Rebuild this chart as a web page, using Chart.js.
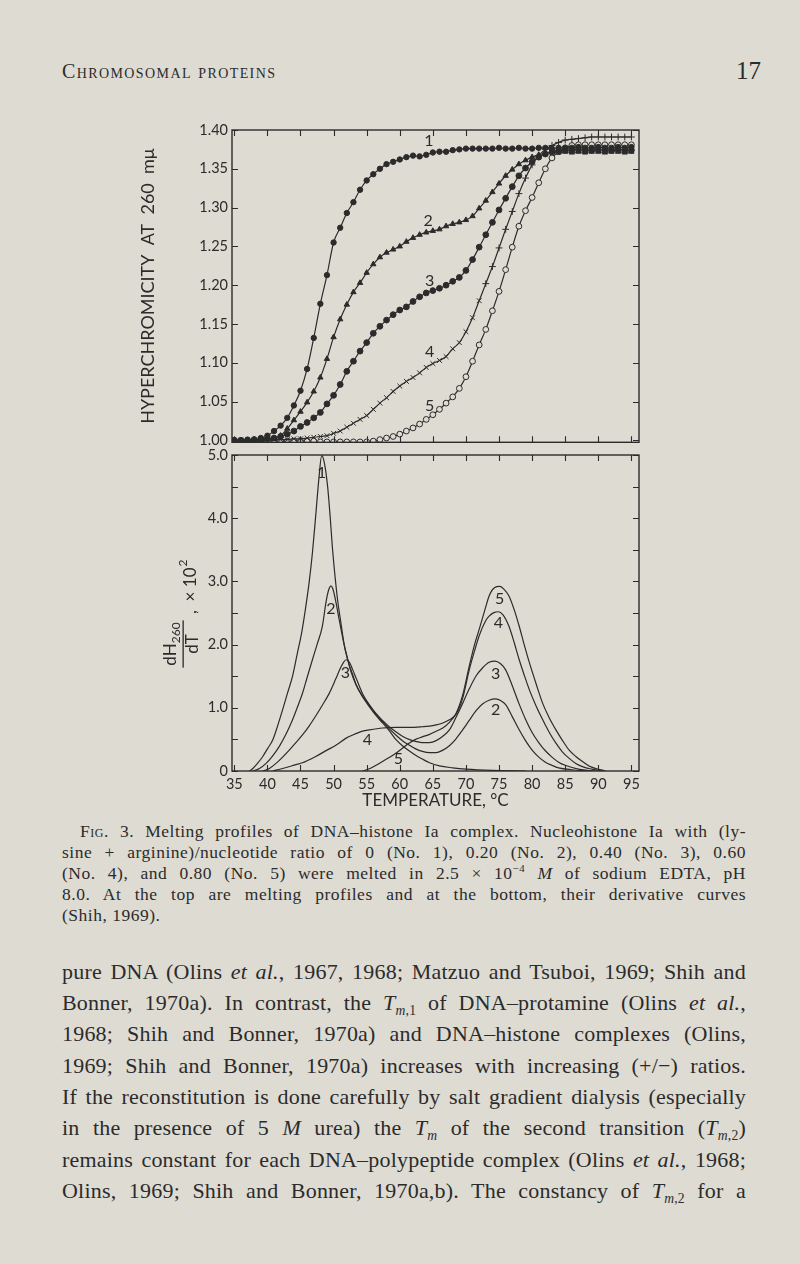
<!DOCTYPE html>
<html>
<head>
<meta charset="utf-8">
<script src="https://cdn.jsdelivr.net/npm/chart.js@4.4.1/dist/chart.umd.min.js"></script>
<style>
  html, body { margin: 0; padding: 0; }
  body { width: 800px; height: 1264px; background: #dedbd3; position: relative; overflow: hidden;
         color: #2b2b2b; font-family: "Liberation Serif", serif; }
  .abs { position: absolute; }
  #head { left: 62px; top: 59px; font-size: 20px; line-height: 24px; font-variant: small-caps; letter-spacing: 1.4px; }
  #folio { left: 736px; top: 56px; font-size: 25px; line-height: 30px; }
  .line { position: absolute; left: 62px; width: 684px; white-space: nowrap; text-align: justify; text-align-last: justify; }
  .cap { font-size: 17.5px; line-height: 20px; letter-spacing: 0.5px; }
  .txt { font-size: 22px; line-height: 24px; letter-spacing: 0.2px; }
  .sc { font-variant: small-caps; }
  sub, sup { font-size: 62%; line-height: 0; }
  #topWrap { left: 132px; top: 110px; width: 520px; height: 345px; }
  #botWrap { left: 132px; top: 440px; width: 520px; height: 380px; }
</style>
</head>
<body>
<div id="head" class="abs">Chromosomal proteins</div>
<div id="folio" class="abs">17</div>

<div id="topWrap" class="abs"><canvas id="meltChart" width="520" height="345"></canvas></div>
<div id="botWrap" class="abs"><canvas id="derivChart" width="520" height="380"></canvas></div>

<div class="line cap" style="top:821px; left:80px; width:666px;"><span class="sc">Fig.</span> 3. Melting profiles of DNA–histone Ia complex. Nucleohistone Ia with (ly-</div>
<div class="line cap" style="top:842px;">sine + arginine)/nucleotide ratio of 0 (No. 1), 0.20 (No. 2), 0.40 (No. 3), 0.60</div>
<div class="line cap" style="top:863px;">(No. 4), and 0.80 (No. 5) were melted in 2.5 × 10<sup>−4</sup> <i>M</i> of sodium EDTA, pH</div>
<div class="line cap" style="top:884px;">8.0. At the top are melting profiles and at the bottom, their derivative curves</div>
<div class="line cap" style="top:905px; text-align-last:left;">(Shih, 1969).</div>

<div class="line txt" style="top:960px;">pure DNA (Olins <i>et al.</i>, 1967, 1968; Matzuo and Tsuboi, 1969; Shih and</div>
<div class="line txt" style="top:991px;">Bonner, 1970a). In contrast, the <i>T</i><sub><i>m</i>,1</sub> of DNA–protamine (Olins <i>et al.</i>,</div>
<div class="line txt" style="top:1022px;">1968; Shih and Bonner, 1970a) and DNA–histone complexes (Olins,</div>
<div class="line txt" style="top:1054px;">1969; Shih and Bonner, 1970a) increases with increasing (+/−) ratios.</div>
<div class="line txt" style="top:1085px;">If the reconstitution is done carefully by salt gradient dialysis (especially</div>
<div class="line txt" style="top:1116px;">in the presence of 5 <i>M</i> urea) the <i>T<sub>m</sub></i> of the second transition (<i>T</i><sub><i>m</i>,2</sub>)</div>
<div class="line txt" style="top:1148px;">remains constant for each DNA–polypeptide complex (Olins <i>et al.</i>, 1968;</div>
<div class="line txt" style="top:1179px;">Olins, 1969; Shih and Bonner, 1970a,b). The constancy of <i>T</i><sub><i>m</i>,2</sub> for a</div>

<script>
// Melting profiles (top) and derivative curves (bottom), Shih 1969

const ink = '#2b2b2b';
const paper = '#dedbd3';

// shared temperature axis
const tempMin = 34.65;
const tempMax = 96.15;
const tempTicks = [35, 40, 45, 50, 55, 60, 65, 70, 75, 80, 85, 90, 95];

// top panel: hyperchromicity read every degree
const meltTemps = [35, 36, 37, 38, 39, 40, 41, 42, 43, 44, 45, 46, 47, 48, 49, 50, 51, 52, 53, 54,
    55, 56, 57, 58, 59, 60, 61, 62, 63, 64, 65, 66, 67, 68, 69, 70, 71, 72, 73, 74,
    75, 76, 77, 78, 79, 80, 81, 82, 83, 84, 85, 86, 87, 88, 89, 90, 91, 92, 93, 94, 95];
const hyper1 = [1.000, 1.000, 1.001, 1.001, 1.003, 1.006, 1.012, 1.019, 1.029, 1.045, 1.064, 1.092, 1.132, 1.176, 1.213, 1.255, 1.274, 1.293, 1.307, 1.323,
    1.335, 1.343, 1.350, 1.356, 1.359, 1.362, 1.365, 1.367, 1.366, 1.368, 1.371, 1.372, 1.372, 1.374, 1.375, 1.376, 1.376, 1.376, 1.376, 1.376,
    1.377, 1.376, 1.376, 1.377, 1.376, 1.376, 1.377, 1.377, 1.376, 1.377, 1.377, 1.377, 1.378, 1.377, 1.377, 1.378, 1.377, 1.377, 1.378, 1.377, 1.378];
const hyper2 = [1.000, 1.000, 1.000, 1.001, 1.001, 1.002, 1.002, 1.006, 1.015, 1.026, 1.037, 1.049, 1.063, 1.081, 1.105, 1.133, 1.156, 1.175, 1.191, 1.203,
    1.216, 1.227, 1.236, 1.242, 1.246, 1.250, 1.256, 1.261, 1.265, 1.268, 1.270, 1.272, 1.276, 1.279, 1.281, 1.284, 1.289, 1.299, 1.309, 1.320,
    1.331, 1.341, 1.349, 1.356, 1.361, 1.365, 1.368, 1.370, 1.371, 1.371, 1.372, 1.371, 1.372, 1.371, 1.372, 1.372, 1.371, 1.372, 1.372, 1.371, 1.372];
const hyper3 = [1.000, 1.000, 1.000, 1.001, 1.001, 1.002, 1.003, 1.005, 1.008, 1.012, 1.018, 1.023, 1.029, 1.036, 1.047, 1.058, 1.072, 1.089, 1.102, 1.115,
    1.126, 1.138, 1.147, 1.155, 1.162, 1.168, 1.172, 1.179, 1.185, 1.190, 1.193, 1.196, 1.200, 1.205, 1.210, 1.219, 1.233, 1.249, 1.265, 1.281,
    1.297, 1.312, 1.327, 1.341, 1.351, 1.359, 1.365, 1.369, 1.372, 1.373, 1.374, 1.374, 1.375, 1.374, 1.374, 1.375, 1.374, 1.374, 1.375, 1.374, 1.374];
const hyper4 = [0.999, 1.000, 1.000, 1.000, 1.001, 1.000, 1.001, 1.001, 1.001, 1.002, 1.002, 1.003, 1.004, 1.005, 1.006, 1.009, 1.012, 1.017, 1.022, 1.027,
    1.032, 1.040, 1.048, 1.055, 1.063, 1.070, 1.076, 1.081, 1.087, 1.094, 1.099, 1.103, 1.108, 1.118, 1.126, 1.140, 1.158, 1.180, 1.202, 1.224,
    1.248, 1.272, 1.295, 1.318, 1.338, 1.355, 1.367, 1.375, 1.380, 1.384, 1.387, 1.388, 1.389, 1.390, 1.391, 1.391, 1.391, 1.391, 1.391, 1.391, 1.391];
const hyper5 = [1.000, 0.999, 0.999, 0.999, 0.999, 0.999, 0.999, 0.999, 0.999, 0.999, 0.999, 0.999, 0.999, 0.998, 0.998, 0.998, 0.998, 0.998, 0.998, 0.998,
    0.998, 0.999, 1.001, 1.003, 1.005, 1.008, 1.012, 1.016, 1.021, 1.027, 1.033, 1.040, 1.048, 1.056, 1.067, 1.082, 1.102, 1.123, 1.143, 1.167,
    1.192, 1.220, 1.249, 1.276, 1.296, 1.313, 1.332, 1.350, 1.364, 1.372, 1.377, 1.380, 1.381, 1.381, 1.381, 1.381, 1.381, 1.381, 1.381, 1.381, 1.381];
const hyperTicks = [1.00, 1.05, 1.10, 1.15, 1.20, 1.25, 1.30, 1.35, 1.40];

// bottom panel: dH260/dT x 10^2
const dTemp1 = [37.3, 37.8, 38.5, 39.3, 40.0, 40.8, 41.5, 42.3, 43.0, 43.8, 44.5, 45.2, 45.8, 46.3, 46.8, 47.3, 47.8, 48.2, 48.6, 49.1,
    49.5, 49.85, 50.6, 51.1, 51.6, 52.1, 52.6, 53.4, 54.4, 55.4, 56.4, 57.4, 58.4, 59.4, 60.4, 61.4, 62.4, 63.4, 64.5, 66, 68, 70, 74, 79];
const deriv1 = [0, 0.04, 0.12, 0.23, 0.35, 0.49, 0.7, 0.97, 1.22, 1.5, 1.85, 2.2, 2.6, 2.98, 3.45, 4.04, 4.65, 4.99, 4.88, 4.5,
    4.0, 3.5, 2.71, 2.35, 2.0, 1.78, 1.58, 1.36, 1.17, 1.02, 0.88, 0.76, 0.64, 0.5, 0.4, 0.32, 0.25, 0.19, 0.13, 0.08, 0.05, 0.03, 0.01, 0];
const dTemp2 = [37.8, 38.8, 39.8, 40.8, 41.8, 42.8, 43.8, 44.5, 45.3, 46.0, 46.8, 47.5, 48.3, 48.9, 49.3, 49.6, 49.9, 50.3, 50.8, 51.3,
    51.8, 52.3, 52.8, 53.4, 54.4, 55.4, 56.4, 57.4, 58.4, 59.4, 60.4, 61.4, 62.4, 63.4, 64.5, 65.5, 66.5, 67.5, 68.5, 69.5,
    70.5, 71.5, 72.5, 73.5, 74.5, 75.3, 76, 77, 78, 79, 80, 81, 82, 83, 84, 86, 88.5];
const deriv2 = [0, 0.04, 0.12, 0.24, 0.39, 0.58, 0.81, 1.0, 1.23, 1.48, 1.76, 2.0, 2.29, 2.7, 2.88, 2.93, 2.88, 2.7, 2.42, 2.15,
    1.9, 1.7, 1.55, 1.37, 1.18, 1.03, 0.9, 0.78, 0.67, 0.57, 0.48, 0.41, 0.35, 0.31, 0.29, 0.29, 0.33, 0.4, 0.51, 0.65,
    0.8, 0.95, 1.06, 1.12, 1.14, 1.11, 1.05, 0.86, 0.66, 0.48, 0.33, 0.22, 0.14, 0.09, 0.05, 0.02, 0];
const dTemp3 = [39.3, 40.3, 41.3, 42.3, 43.3, 44.3, 45.3, 46.3, 47.3, 48.3, 49.3, 50.3, 51.0, 51.5, 51.9, 52.4, 52.9, 53.4, 54.4, 55.4,
    56.4, 57.4, 58.4, 59.4, 60.4, 61.4, 62.4, 63.4, 64.5, 65.5, 66.5, 67.5, 68.5, 69.5, 70.5, 71.5, 72.5, 73.5, 74.4, 75.2,
    76, 77, 78, 79, 80, 81, 82, 83, 84, 85, 87, 89.5];
const deriv3 = [0, 0.04, 0.12, 0.22, 0.33, 0.45, 0.57, 0.71, 0.87, 1.04, 1.22, 1.45, 1.62, 1.72, 1.76, 1.72, 1.6, 1.47, 1.22, 1.05,
    0.91, 0.8, 0.7, 0.62, 0.55, 0.5, 0.47, 0.45, 0.45, 0.48, 0.55, 0.65, 0.85, 1.07, 1.3, 1.5, 1.63, 1.72, 1.74, 1.7,
    1.6, 1.35, 1.07, 0.82, 0.61, 0.45, 0.32, 0.22, 0.14, 0.09, 0.03, 0];
const dTemp4 = [40.8, 42.3, 44.3, 45.3, 47.3, 49.0, 50.4, 51.9, 52.9, 54.4, 55.4, 57.4, 59.4, 61.4, 63.4, 64.5, 65.5, 66.5, 67.5, 68.5,
    69.5, 70.5, 71.3, 72, 73, 73.5, 74.3, 74.9, 75.6, 76.5, 77.3, 78.05, 78.8, 79.6, 80.6, 81.6, 82.6, 83.6, 84.6, 85.6,
    86.6, 87.6, 89, 90.6];
const deriv4 = [0, 0.04, 0.1, 0.13, 0.23, 0.33, 0.41, 0.52, 0.57, 0.63, 0.65, 0.68, 0.69, 0.69, 0.7, 0.71, 0.73, 0.76, 0.81, 0.9,
    1.15, 1.6, 1.9, 2.14, 2.38, 2.45, 2.51, 2.52, 2.47, 2.29, 2.03, 1.76, 1.52, 1.28, 1.03, 0.81, 0.61, 0.44, 0.3, 0.2,
    0.12, 0.07, 0.03, 0];
const dTemp5 = [54.4, 55.5, 56.9, 58.2, 59.4, 60.4, 61.4, 62.4, 63.4, 64.5, 65.5, 66.5, 67.5, 68.5, 69.5, 70.5, 71.3, 72, 73, 73.5,
    74.3, 75.1, 75.8, 76.5, 77.3, 78.05, 78.8, 79.6, 80.6, 81.6, 82.6, 83.6, 84.6, 85.6, 86.6, 87.6, 88.6, 89.6, 91.1];
const deriv5 = [0, 0.04, 0.12, 0.2, 0.28, 0.36, 0.44, 0.5, 0.54, 0.58, 0.63, 0.68, 0.77, 0.91, 1.2, 1.66, 2.0, 2.24, 2.6, 2.77,
    2.9, 2.92, 2.87, 2.77, 2.55, 2.29, 2.0, 1.71, 1.38, 1.07, 0.84, 0.65, 0.48, 0.33, 0.23, 0.15, 0.08, 0.04, 0];
const derivTicks = [0, 1, 2, 3, 4, 5];
const derivMinor = [0.5, 1.5, 2.5, 3.5, 4.5];

// curve numbers written on the plots
const meltLabels = ['1', '2', '3', '4', '5'];
const meltLabelT = [64.4, 64.3, 64.5, 64.5, 64.5];
const meltLabelH = [1.386, 1.283, 1.206, 1.114, 1.045];
const derivLabels = ['1', '2', '3', '4', '5', '5', '4', '3', '2'];
const derivLabelT = [48.2, 49.6, 51.8, 55.1, 59.8, 75.1, 74.9, 74.5, 74.5];
const derivLabelV = [4.72, 2.56, 1.55, 0.49, 0.2, 2.72, 2.35, 1.53, 0.97];

const sans = 'Lato';

function pts(xs, ys) {
    return xs.map((x, i) => ({ x: x, y: ys[i] }));
}

// frame with inward ticks on all four sides, and the curve numbers
const frameTicks = {
    id: 'frameTicks',
    afterDraw(chart, args, opts) {
        const { ctx, chartArea: a, scales } = chart;
        const xs = scales.x, ys = scales.y;
        ctx.save();
        ctx.strokeStyle = ink;
        ctx.lineWidth = 1.4;
        ctx.strokeRect(a.left, a.top, a.right - a.left, a.bottom - a.top);
        ctx.lineWidth = 1.1;
        ctx.beginPath();
        opts.xTicks.forEach(v => {
            const px = Math.round(xs.getPixelForValue(v)) + 0.5;
            ctx.moveTo(px, a.top); ctx.lineTo(px, a.top + 6);
            ctx.moveTo(px, a.bottom); ctx.lineTo(px, a.bottom - 6);
        });
        opts.yTicks.forEach(v => {
            const py = Math.round(ys.getPixelForValue(v)) + 0.5;
            ctx.moveTo(a.left, py); ctx.lineTo(a.left + 6, py);
            ctx.moveTo(a.right, py); ctx.lineTo(a.right - 6, py);
        });
        ctx.stroke();

        ctx.fillStyle = ink;
        ctx.font = '16px ' + sans;
        ctx.textAlign = 'center';
        ctx.textBaseline = 'middle';
        opts.labels.forEach((t, i) => {
            ctx.fillText(t, xs.getPixelForValue(opts.labelX[i]), ys.getPixelForValue(opts.labelY[i]));
        });

        if (opts.fraction) {
            // dH260 / dT , x 10^2 written sideways
            ctx.translate(49, 204);
            ctx.rotate(-Math.PI / 2);
            ctx.textBaseline = 'alphabetic';
            ctx.textAlign = 'left';
            ctx.font = '17px ' + sans;
            const wd = ctx.measureText('dH').width;
            ctx.font = '12px ' + sans;
            const ws = ctx.measureText('260').width;
            const start = -(wd + ws) / 2;
            ctx.font = '17px ' + sans;
            ctx.fillText('dH', start, -5);
            ctx.font = '12px ' + sans;
            ctx.fillText('260', start + wd, -1);
            ctx.fillRect(start - 2, 1.5, wd + ws + 4, 1.3);
            ctx.font = '17px ' + sans;
            ctx.textAlign = 'center';
            ctx.fillText('dT', 0, 17);
            ctx.textAlign = 'left';
            ctx.fillText(',  × 10', 30, 15);
            const w10 = ctx.measureText(',  × 10').width;
            ctx.font = '12px ' + sans;
            ctx.fillText('2', 30 + w10 + 1, 6);
        }
        ctx.restore();
    }
};

function meltSet(values, style, radius, fill) {
    return {
        data: pts(meltTemps, values),
        borderColor: ink,
        borderWidth: 1.2,
        cubicInterpolationMode: 'monotone',
        pointStyle: style,
        pointRadius: radius,
        pointBorderWidth: 1,
        pointBorderColor: ink,
        pointBackgroundColor: fill
    };
}

function derivSet(xs, ys) {
    return {
        data: pts(xs, ys),
        borderColor: ink,
        borderWidth: 1.2,
        cubicInterpolationMode: 'monotone',
        pointRadius: 0
    };
}

const tickFont = { family: sans, size: 14.5 };

new Chart(document.getElementById('meltChart'), {
    type: 'line',
    data: {
        datasets: [
            meltSet(hyper1, 'circle', 2.7, ink),
            meltSet(hyper2, 'triangle', 3.1, ink),
            meltSet(hyper3, 'circle', 2.9, ink),
            meltSet(hyper4, ctx => (ctx.raw && ctx.raw.y > 1.2 ? 'cross' : 'crossRot'), 3.4, ink),
            meltSet(hyper5, 'circle', 2.9, paper)
        ]
    },
    options: {
        responsive: false,
        animation: false,
        layout: { padding: { top: 20, right: 13, bottom: 10, left: 0 } },
        scales: {
            x: { type: 'linear', min: tempMin, max: tempMax, display: false },
            y: {
                min: 0.9975, max: 1.40,
                afterFit: s => { s.width = 100; },
                afterBuildTicks: s => { s.ticks = hyperTicks.map(v => ({ value: v })); },
                grid: { display: false, drawTicks: false },
                border: { display: false },
                ticks: { padding: 4, color: ink, font: tickFont, callback: v => v.toFixed(2) },
                title: {
                    display: true, text: 'HYPERCHROMICITY  AT  260  mμ', color: ink,
                    font: { family: sans, size: 18 }, padding: { top: 5, bottom: 0 }
                }
            }
        },
        plugins: {
            legend: { display: false },
            tooltip: { enabled: false },
            frameTicks: { xTicks: tempTicks, yTicks: hyperTicks, labels: meltLabels, labelX: meltLabelT, labelY: meltLabelH }
        }
    },
    plugins: [frameTicks]
});

new Chart(document.getElementById('derivChart'), {
    type: 'line',
    data: {
        datasets: [
            derivSet(dTemp1, deriv1),
            derivSet(dTemp2, deriv2),
            derivSet(dTemp3, deriv3),
            derivSet(dTemp4, deriv4),
            derivSet(dTemp5, deriv5)
        ]
    },
    options: {
        responsive: false,
        animation: false,
        layout: { padding: { top: 15, right: 13, bottom: 6, left: 0 } },
        scales: {
            x: {
                type: 'linear', min: tempMin, max: tempMax,
                afterFit: s => { s.height = 43; },
                afterBuildTicks: s => { s.ticks = tempTicks.map(v => ({ value: v })); },
                grid: { display: false, drawTicks: false },
                border: { display: false },
                ticks: { padding: 5, color: ink, font: tickFont, maxRotation: 0, autoSkip: false },
                title: {
                    display: true, text: 'TEMPERATURE, °C', color: ink,
                    font: { family: sans, size: 17 }, padding: { top: 0, bottom: 3 }
                }
            },
            y: {
                min: 0, max: 5,
                afterFit: s => { s.width = 100; },
                afterBuildTicks: s => { s.ticks = derivTicks.map(v => ({ value: v })); },
                grid: { display: false, drawTicks: false },
                border: { display: false },
                ticks: { padding: 4, color: ink, font: tickFont, callback: v => (v === 0 ? '0' : v.toFixed(1)) }
            }
        },
        plugins: {
            legend: { display: false },
            tooltip: { enabled: false },
            frameTicks: {
                xTicks: tempTicks, yTicks: derivTicks.concat(derivMinor),
                labels: derivLabels, labelX: derivLabelT, labelY: derivLabelV, fraction: true
            }
        }
    },
    plugins: [frameTicks]
});
</script>
</body>
</html>
